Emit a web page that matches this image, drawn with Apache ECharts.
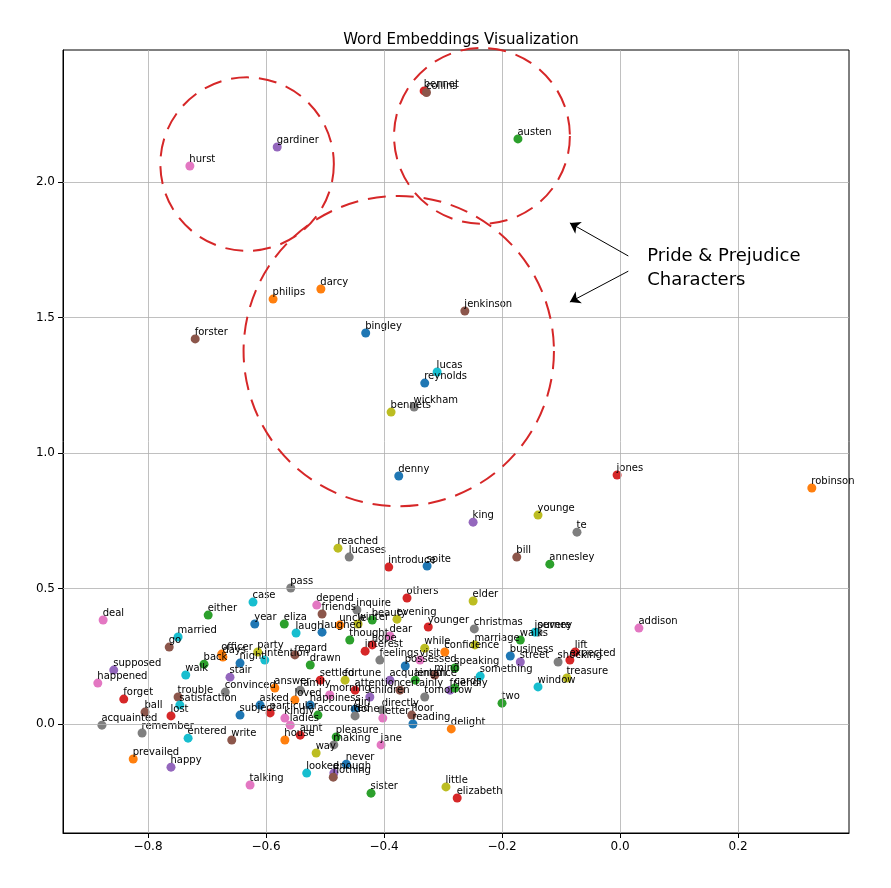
<!DOCTYPE html>
<html><head><meta charset="utf-8">
<script src="https://cdn.jsdelivr.net/npm/echarts@6/dist/echarts.min.js"></script>
<style>html,body{margin:0;padding:0;background:#fff}#c{width:891px;height:888px}</style>
</head><body><div id="c"></div>
<script>
const words=["bennet","collins","austen","gardiner","hurst","darcy","philips","jenkinson","forster","bingley","lucas","reynolds","wickham","bennets","denny","jones","robinson","younge","te","king","bill","annesley","reached","lucases","introduce","spite","pass","others","elder","case","depend","inquire","friends","either","deal","year","eliza","evening","younger","christmas","severe","addison","married","go","walks","lift","supposed","happened","shocking","treasure","window","forget","ball","lost","two","acquainted","remember","entered","write","prevailed","happy","delight","jane","pleasure","making","way","never","enough","nothing","looked","talking","sister","little","elizabeth","directly","floor","reading","girl","letter","accounted","done","trouble","satisfaction","convinced","officer","party","days","back","night","walk","stair","laugh","laughed","thought","dear","hope","while","confidence","speaking","something","tomorrow","regard","interest","possessed","friendly","cards","children","drawn","intention","loved","kindly","asked","uncle","beauty","winter","settled","acquaintance","street","business","journey","expected","particular","certainly","morning","family","fortune","answer","ladies","aunt","house","visit","mind","feelings","attention","happiness","subject","marriage","length"];
const xs=[-0.332,-0.328,-0.173,-0.581,-0.729,-0.507,-0.588,-0.263,-0.720,-0.431,-0.310,-0.331,-0.349,-0.388,-0.375,-0.005,0.325,-0.139,-0.073,-0.249,-0.175,-0.119,-0.478,-0.459,-0.392,-0.327,-0.558,-0.361,-0.249,-0.622,-0.514,-0.446,-0.505,-0.698,-0.876,-0.619,-0.569,-0.378,-0.325,-0.247,-0.139,0.032,-0.749,-0.764,-0.169,-0.076,-0.858,-0.885,-0.105,-0.090,-0.139,-0.841,-0.805,-0.761,-0.200,-0.878,-0.810,-0.732,-0.658,-0.825,-0.761,-0.286,-0.405,-0.481,-0.485,-0.515,-0.464,-0.485,-0.486,-0.531,-0.627,-0.422,-0.295,-0.276,-0.403,-0.353,-0.351,-0.449,-0.402,-0.512,-0.449,-0.749,-0.746,-0.669,-0.675,-0.614,-0.673,-0.705,-0.644,-0.736,-0.661,-0.549,-0.505,-0.458,-0.390,-0.420,-0.331,-0.297,-0.280,-0.237,-0.331,-0.551,-0.432,-0.364,-0.288,-0.280,-0.424,-0.525,-0.602,-0.551,-0.568,-0.610,-0.475,-0.420,-0.444,-0.508,-0.390,-0.169,-0.186,-0.144,-0.085,-0.593,-0.373,-0.492,-0.542,-0.466,-0.585,-0.559,-0.542,-0.568,-0.339,-0.314,-0.407,-0.449,-0.525,-0.644,-0.246,-0.347];
const ys=[2.336,2.330,2.159,2.129,2.059,1.605,1.568,1.524,1.421,1.443,1.299,1.258,1.170,1.151,0.915,0.919,0.871,0.771,0.708,0.745,0.616,0.590,0.649,0.616,0.579,0.583,0.502,0.465,0.454,0.450,0.439,0.421,0.406,0.402,0.384,0.369,0.369,0.387,0.358,0.351,0.339,0.354,0.321,0.284,0.310,0.266,0.199,0.151,0.229,0.170,0.137,0.092,0.044,0.030,0.077,-0.004,-0.033,-0.052,-0.059,-0.129,-0.159,-0.018,-0.077,-0.048,-0.077,-0.107,-0.148,-0.181,-0.196,-0.181,-0.225,-0.255,-0.232,-0.273,0.052,0.033,0.000,0.055,0.022,0.033,0.030,0.100,0.070,0.118,0.258,0.266,0.247,0.221,0.225,0.181,0.173,0.336,0.339,0.310,0.325,0.292,0.280,0.266,0.207,0.177,0.100,0.255,0.269,0.214,0.125,0.133,0.100,0.218,0.236,0.089,0.022,0.070,0.365,0.384,0.369,0.162,0.162,0.229,0.251,0.339,0.236,0.041,0.125,0.107,0.125,0.162,0.133,-0.004,-0.041,-0.059,0.236,0.181,0.236,0.125,0.070,0.033,0.292,0.162];
const colorIdx=[3,5,2,4,6,1,1,5,5,0,9,0,7,8,0,3,1,8,7,4,5,2,8,7,3,0,7,3,8,9,6,7,5,2,6,0,2,8,3,7,7,6,9,5,2,3,4,6,7,8,9,3,5,3,2,7,7,9,5,1,4,1,6,2,7,8,0,4,5,9,6,2,8,3,7,5,0,0,6,2,7,5,9,7,1,8,1,2,0,9,4,9,0,2,6,3,8,1,2,9,7,5,3,0,4,2,4,2,9,1,6,0,1,2,8,3,4,4,0,9,3,3,5,6,7,8,1,6,3,1,6,5,7,3,0,0,8,2];
const palette=['#1f77b4','#ff7f0e','#2ca02c','#d62728','#9467bd','#8c564b','#e377c2','#7f7f7f','#bcbd22','#17becf'];
const xTicks=[-0.8,-0.6,-0.4,-0.2,0.0,0.2];
const yTicks=[0.0,0.5,1.0,1.5,2.0];
const circles=[[-0.632,2.066,0.147],[-0.234,2.170,0.149],[-0.375,1.376,0.263]];
const arrows=[[[0.014,1.727],[-0.085,1.849]],[[0.014,1.671],[-0.085,1.557]]];

const chart=echarts.init(document.getElementById('c'));
const data=words.map((w,i)=>({value:[xs[i],ys[i]],name:w,itemStyle:{color:palette[colorIdx[i]],opacity:1}}));
const gridLines=xTicks.map(v=>({xAxis:v})).concat(yTicks.map(v=>({yAxis:v})));
const fmt=v=>{const s=v.toFixed(1);return s.replace('-','\u2212');};
chart.setOption({
  animation:false,
  title:{text:'Word Embeddings Visualization',left:456,top:28,textAlign:'center',textStyle:{fontFamily:'DejaVu Sans',fontSize:15,fontWeight:'normal',color:'#000'}},
  grid:{left:63,right:42,top:50,bottom:55,show:true,borderColor:'#000',borderWidth:1,backgroundColor:'transparent'},
  xAxis:{type:'value',min:-0.944,max:0.388,splitLine:{show:false},
    axisLine:{onZero:false,lineStyle:{color:'#000'}},
    axisTick:{customValues:xTicks,lineStyle:{color:'#000'}},
    axisLabel:{customValues:xTicks,formatter:fmt,color:'#000',fontFamily:'DejaVu Sans',fontSize:12}},
  yAxis:{type:'value',min:-0.402,max:2.487,splitLine:{show:false},
    axisLine:{show:true,onZero:false,lineStyle:{color:'#000'}},
    axisTick:{show:true,customValues:yTicks,lineStyle:{color:'#000'}},
    axisLabel:{customValues:yTicks,formatter:fmt,color:'#000',fontFamily:'DejaVu Sans',fontSize:12}},
  series:[
    {type:'scatter',data:[],silent:true,
     markLine:{silent:true,symbol:'none',label:{show:false},lineStyle:{color:'#b0b0b0',type:'solid',width:0.8},data:gridLines}},
    {type:'scatter',data:data,symbolSize:9,z:3,
     label:{show:true,formatter:p=>p.name,position:[4,-7],fontSize:10,fontFamily:'DejaVu Sans',color:'#000',textBorderWidth:0},
     labelLayout:{hideOverlap:false}},
    {type:'scatter',data:[],silent:true,
     markLine:{silent:true,symbol:['none','arrow'],symbolSize:10,label:{show:false},lineStyle:{color:'#000',type:'solid',width:1},
       data:arrows.map(a=>[{coord:a[0]},{coord:a[1]}])}}
  ]
});
const g=[];
circles.forEach(c=>{
  const p=chart.convertToPixel({gridIndex:0},[c[0],c[1]]);
  const q=chart.convertToPixel({gridIndex:0},[c[0]+c[2],c[1]]);
  g.push({type:'circle',shape:{cx:p[0],cy:p[1],r:q[0]-p[0]},z:10,
    style:{fill:'none',stroke:'#d62728',lineWidth:2,lineDash:[18,10]}});
});
const tp=chart.convertToPixel({gridIndex:0},[0.046,1.727]);
g.push({type:'text',x:tp[0],y:tp[1]-12,z:10,style:{text:'Pride & Prejudice\nCharacters',font:'18px DejaVu Sans',fill:'#000',lineHeight:24}});
chart.setOption({graphic:g});
</script></body></html>
